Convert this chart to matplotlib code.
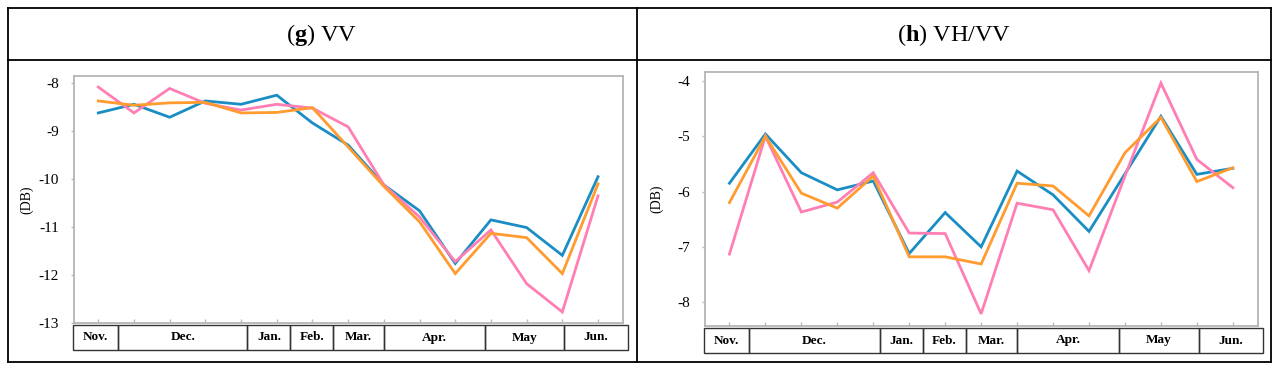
import matplotlib
matplotlib.use("Agg")
import matplotlib.pyplot as plt
from matplotlib.lines import Line2D
from matplotlib.patches import Rectangle
import numpy as np

plt.rcParams['font.family'] = ['Liberation Serif', 'DejaVu Serif']
plt.rcParams['mathtext.fontset'] = 'custom'
plt.rcParams['mathtext.rm'] = 'Liberation Serif'
plt.rcParams['mathtext.bf'] = 'Liberation Serif:bold'

# ---- data ----
months = ["Nov.", "Dec.", "Jan.", "Feb.", "Mar.", "Apr.", "May", "Jun."]
month_edges = [-0.72, 0.55, 4.18, 5.38, 6.58, 8.0, 10.84, 13.05, 14.83]

vv_blue = [-8.62, -8.44, -8.71, -8.37, -8.44, -8.25, -8.83, -9.29, -10.12, -10.66,
           -11.76, -10.85, -11.01, -11.59, -9.95]
vv_orange = [-8.37, -8.46, -8.41, -8.40, -8.62, -8.61, -8.51, -9.33, -10.15, -10.89,
             -11.97, -11.13, -11.22, -11.97, -10.10]
vv_pink = [-8.08, -8.62, -8.11, -8.42, -8.56, -8.44, -8.52, -8.91, -10.12, -10.79,
           -11.72, -11.06, -12.18, -12.77, -10.35]

vhvv_blue = [-5.85, -4.96, -5.66, -5.97, -5.81, -7.12, -6.38, -7.00, -5.63, -6.06,
             -6.72, -5.68, -4.64, -5.69, -5.58]
vhvv_orange = [-6.20, -5.00, -6.03, -6.30, -5.72, -7.18, -7.18, -7.31, -5.85, -5.90,
               -6.44, -5.30, -4.66, -5.82, -5.57]
vhvv_pink = [-7.13, -5.00, -6.37, -6.19, -5.66, -6.75, -6.76, -8.21, -6.21, -6.33,
             -7.43, -5.72, -4.04, -5.42, -5.93]

titles = [r"($\mathbf{g}$) VV", r"($\mathbf{h}$) VH/VV"]
yticks_list = [[-13, -12, -11, -10, -9, -8], [-8, -7, -6, -5, -4]]
ylims = [(-13.0, -7.85), (-8.43, -3.84)]

colors = {"blue": "#1a8ec4", "orange": "#ff9b2f", "pink": "#ff7fb5"}

W, H = 1280, 373
fig = plt.figure(figsize=(W / 100, H / 100), dpi=100)


def fx(x):
    return x / W


def fy(y):
    return 1 - y / H


# outer frame and dividers
frame_kw = dict(color="black", lw=1.3, transform=fig.transFigure)
L, R, T, B = 7.5, 1270.5, 8.0, 362.0
for xs, ys in [([L, R], [T, T]), ([L, R], [B, B]), ([L, L], [T, B]), ([R, R], [T, B]),
               ([637, 637], [T, B]), ([L, R], [60, 60])]:
    fig.add_artist(Line2D([fx(v) for v in xs], [fy(v) for v in ys], **frame_kw))

# titles
fig.text(fx(322), fy(35), titles[0], ha="center", va="center", fontsize=17.5)
fig.text(fx(954), fy(35), titles[1], ha="center", va="center", fontsize=17.5)

axes_px = [(74, 76, 623, 323), (705, 72, 1258, 326)]
series = [(vv_blue, vv_orange, vv_pink), (vhvv_blue, vhvv_orange, vhvv_pink)]
ylabel_x = [33, 663]

for i, (x0, y0, x1, y1) in enumerate(axes_px):
    ax = fig.add_axes([fx(x0), fy(y1), (x1 - x0) / W, (y1 - y0) / H])
    b, o, p = series[i]
    x = np.arange(len(b))
    ax.plot(x, b, color=colors["blue"], lw=2.0, solid_joinstyle="miter")
    ax.plot(x, p, color=colors["pink"], lw=2.0, solid_joinstyle="miter")
    ax.plot(x, o, color=colors["orange"], lw=2.0, solid_joinstyle="miter")
    ax.set_xlim(-0.68, 14.7)
    ax.set_ylim(*ylims[i])
    ax.set_yticks(yticks_list[i])
    ax.set_yticklabels([str(v) for v in yticks_list[i]], fontsize=11)
    ax.set_xticks(x)
    ax.set_xticklabels([])
    ax.tick_params(axis="x", direction="in", length=3, color="#bbbbbb", width=1)
    ax.tick_params(axis="y", direction="out", length=2, color="#bbbbbb", width=1, pad=9)
    for s in ax.spines.values():
        s.set_color("#b5b5b5")
        s.set_linewidth(1.3)
    ax.set_ylabel("(DB)", fontsize=10)
    ax.yaxis.set_label_coords((ylabel_x[i] - x0) / (x1 - x0), 0.5)

    # month table below the axes
    ah = (y1 - y0)
    ty0 = -2.0 / ah
    ty1 = -27.0 / ah
    trans = ax.get_xaxis_transform()
    for k, m in enumerate(months):
        a, c = month_edges[k], month_edges[k + 1]
        ax.add_patch(Rectangle((a, ty1), c - a, ty0 - ty1, transform=trans,
                               fill=False, edgecolor="#333333", lw=1.0, clip_on=False))
        ax.text((a + c) / 2, (ty0 + ty1) / 2, m, transform=trans, ha="center",
                va="center", fontsize=9.5, fontweight="bold", clip_on=False)

fig.savefig("out.png", dpi=100)
